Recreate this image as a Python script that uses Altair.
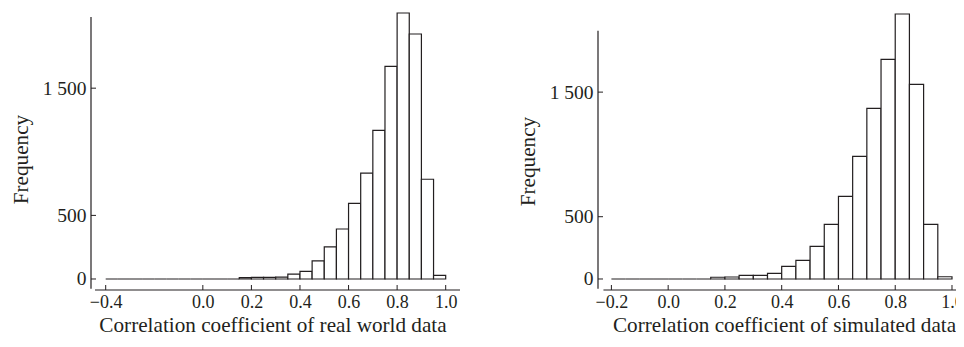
import altair as alt
import pandas as pd

# ---------------- data ----------------
# Left panel: correlation coefficients of real world data (bins of width 0.05)
real_bin_start = [-0.40, -0.35, -0.30, -0.25, -0.20, -0.15, -0.10, -0.05, 0.00, 0.05,
                  0.10, 0.15, 0.20, 0.25, 0.30, 0.35, 0.40, 0.45, 0.50, 0.55,
                  0.60, 0.65, 0.70, 0.75, 0.80, 0.85, 0.90, 0.95]
real_counts = [0, 0, 0, 0, 0, 0, 0, 0, 0, 0,
               0, 10, 12, 12, 14, 39, 60, 142, 252, 393,
               595, 833, 1169, 1672, 2091, 1926, 784, 29]

# Right panel: correlation coefficients of simulated data
sim_bin_start = [-0.20, -0.15, -0.10, -0.05, 0.00, 0.05, 0.10, 0.15, 0.20, 0.25,
                 0.30, 0.35, 0.40, 0.45, 0.50, 0.55, 0.60, 0.65, 0.70, 0.75,
                 0.80, 0.85, 0.90, 0.95]
sim_counts = [0, 0, 0, 0, 0, 0, 0, 14, 16, 29,
              29, 45, 102, 150, 262, 439, 663, 984, 1370, 1763,
              2127, 1562, 439, 18]

bin_width = 0.05

real_x_ticks = [-0.4, 0.0, 0.2, 0.4, 0.6, 0.8, 1.0]
sim_x_ticks = [-0.2, 0.0, 0.2, 0.4, 0.6, 0.8, 1.0]
y_ticks = [0, 500, 1500]

real_title = "Correlation coefficient of real world data"
sim_title = "Correlation coefficient of simulated data"
y_title = "Frequency"

# ---------------- styling ----------------
FONT = "Liberation Serif"
INK = "#231f20"
LABEL_SIZE = 18
TITLE_SIZE = 21.2
H = 277


def panel(starts, counts, xdom, ydom, xticks, title, W, xline, yline,
          titleX, ytitleX, ytitleY):
    df = pd.DataFrame({"start": starts, "count": counts})
    df["end"] = df["start"] + bin_width
    xs = alt.Scale(domain=xdom, nice=False, zero=False)
    ys = alt.Scale(domain=ydom, nice=False, zero=False)

    xaxis = alt.Axis(values=xticks, format=".1f", ticks=False, domain=False, grid=False,
                     labelFont=FONT, labelFontSize=LABEL_SIZE, labelColor=INK,
                     labelPadding=3, labelFlush=False, labelOverlap=False,
                     title=title, titleFont=FONT, titleFontSize=TITLE_SIZE,
                     titleFontWeight="normal", titleColor=INK,
                     titleY=41, titleBaseline="alphabetic", titleX=titleX)
    yaxis = alt.Axis(values=y_ticks, ticks=False, domain=False, grid=False,
                     labelExpr="datum.value == 1500 ? '1 500' : datum.label",
                     labelFont=FONT, labelFontSize=LABEL_SIZE + 1.5, labelColor=INK,
                     labelPadding=5, labelFlush=False, labelOverlap=False,
                     title=y_title, titleFont=FONT, titleFontSize=TITLE_SIZE,
                     titleFontWeight="normal", titleColor=INK,
                     titleAngle=270, titleAlign="center", titleBaseline="middle",
                     titleX=ytitleX, titleY=ytitleY)

    bars = alt.Chart(df).mark_rect(fill="white", stroke=INK, strokeWidth=1.2).encode(
        x=alt.X("start:Q", scale=xs, axis=xaxis),
        x2="end:Q",
        y=alt.Y("count:Q", scale=ys, axis=yaxis),
        y2=alt.Y2Datum(0),
    )

    yt = alt.Chart(pd.DataFrame({"v": y_ticks})).mark_rule(color=INK, strokeWidth=1).encode(
        y=alt.Y("v:Q", scale=ys, axis=yaxis),
        x=alt.value(0), x2=alt.value(5),
    )
    xt = alt.Chart(pd.DataFrame({"v": xticks})).mark_rule(color=INK, strokeWidth=1).encode(
        x=alt.X("v:Q", scale=xs, axis=xaxis),
        y=alt.value(H), y2=alt.value(H - 5),
    )
    yl = alt.Chart(pd.DataFrame({"a": [yline[0]], "b": [yline[1]]})).mark_rule(
        color=INK, strokeWidth=1.2).encode(
        y=alt.Y("a:Q", scale=ys, axis=yaxis), y2="b:Q",
        x=alt.value(0),
    )
    xl = alt.Chart(pd.DataFrame({"a": [xline[0]], "b": [xline[1]]})).mark_rule(
        color=INK, strokeWidth=1.2).encode(
        x=alt.X("a:Q", scale=xs, axis=xaxis), x2="b:Q",
        y=alt.value(H),
    )
    return alt.layer(bars, yt, xt, yl, xl).properties(width=W, height=H)


left = panel(real_bin_start, real_counts, [-0.4605, 1.0589], [-86.5, 2091],
             real_x_ticks, real_title, 369, [-0.444, 1.0589], [2060, -76],
             181.5, -70, 146)
right = panel(sim_bin_start, sim_counts, [-0.2472, 1.0423], [-88.3, 2135],
              sim_x_ticks, sim_title, 366, [-0.228, 1.0423], [1993, -78],
              186, -70, 148)

chart = alt.hconcat(left, right, spacing=56).properties(
    padding={"left": 2, "top": 4, "right": -9, "bottom": 0}
).configure_view(stroke=None)

chart.save("out.html", embed_options={"renderer": "svg", "actions": False})
